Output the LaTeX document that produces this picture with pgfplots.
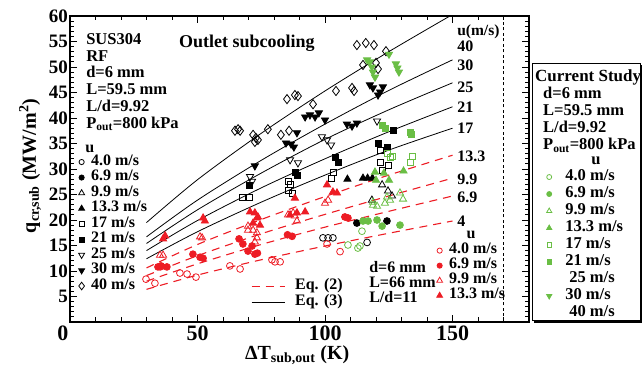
\documentclass[border=0pt]{standalone}
\usepackage{fontspec}
\setmainfont{Liberation Serif}
\usepackage{pgfplots}
\pgfplotsset{compat=1.18}
\usetikzlibrary{calc}
\definecolor{cred}{RGB}{237,28,36}
\definecolor{cgreen}{RGB}{106,190,69}
\newcommand{\lf}{\bfseries\fontsize{16}{16}\selectfont}
\newcommand{\tf}{\bfseries\fontsize{16.5}{16.8}\selectfont}
\pgfplotsset{
  base/.style={scale only axis, width=459pt, height=306pt, xmin=0, xmax=180, ymin=0, ymax=60,
    at={(0,0)}, anchor=south west, clip=false},
  leg/.style={legend cell align=left, legend style={draw=none, fill=none, font=\lf, inner sep=0pt,
    row sep=#1, nodes={inner sep=1pt, text height=8pt, text depth=2pt}}},
  m4/.style={mark=o, mark size=3.4pt, line width=0.8pt},
  m69/.style={mark=*, mark size=3.4pt, line width=0.8pt},
  m99/.style={mark=triangle, mark size=4.1pt, line width=0.8pt},
  m133/.style={mark=triangle*, mark size=4.1pt, line width=0.8pt},
  m17/.style={mark=square, mark size=3.0pt, line width=0.8pt},
  m21/.style={mark=square*, mark size=3.0pt, line width=0.8pt},
  m25/.style={mark=triangle, mark size=4.1pt, line width=0.8pt, mark options={rotate=180}},
  m30/.style={mark=triangle*, mark size=4.1pt, line width=0.8pt, mark options={rotate=180}},
  m40/.style={mark=diamond, mark size=4.6pt, line width=0.8pt},
  eqleg/.style={legend image code/.code={\draw[##1] (0pt,0pt) -- (33pt,0pt);}},
  eq3/.style={black, line width=0.8pt, smooth},
  eq2/.style={cred, line width=1.1pt, dash pattern=on 8pt off 6pt, smooth},
}
\begin{document}
\begin{tikzpicture}
% ---------------- main axis (black data, correlations) ----------------
\begin{axis}[base, name=main,
  axis line style={line width=1.3pt},
  xtick={0,50,100,150}, xticklabels={\hspace*{-14pt}0,50,100,150},
  minor xtick={0,10,...,180},
  ytick={5,10,...,60}, minor ytick={1,2,...,60},
  tick align=inside, major tick length=7pt, minor tick length=4.5pt,
  every tick/.style={black, line width=0.9pt},
  /pgf/number format/assume math mode=true,
  xticklabel style={font=\bfseries\fontsize{22}{22}\selectfont},
  yticklabel style={font=\bfseries\fontsize{19}{19}\selectfont, inner sep=2pt},
  xlabel={ΔT\textsubscript{sub,out} (K)},
  ylabel={q\textsubscript{cr,sub} (MW/m\textsuperscript{2})},
  xlabel style={font=\bfseries\fontsize{20}{20}\selectfont, at={(axis description cs:0.495,-0.108)}, anchor=center},
  ylabel style={font=\bfseries\fontsize{20}{20}\selectfont, at={(axis description cs:-0.087,0.51)}, anchor=center},
  leg=3.5pt,
  legend style={at={(0.0185,0.543)}, anchor=north west,
    /tikz/every odd column/.append style={column sep=5.5pt}},
]
% Eq. (3) solid lines: u = 40, 30, 25, 21, 17 m/s
\addplot[eq3, forget plot] coordinates {(30,19.5)(50,27.9)(75,37.0)(100,45.3)(125,53.0)(149,60)};
\addplot[eq3, forget plot] coordinates {(30,16.7)(50,23.9)(75,31.7)(100,38.8)(125,45.4)(150,51.4)};
\addplot[eq3, forget plot] coordinates {(30,15.4)(50,22.0)(75,29.2)(100,35.8)(125,41.6)(150,46.9)};
\addplot[eq3, forget plot] coordinates {(30,14.0)(50,19.9)(75,26.3)(100,32.0)(125,37.3)(150,42.2)};
\addplot[eq3, forget plot] coordinates {(30,12.4)(50,17.7)(75,23.5)(100,28.8)(125,33.7)(150,38.0)};
% Eq. (2) dashed lines: u = 13.3, 9.9, 6.9, 4 m/s
\addplot[eq2, forget plot] coordinates {(30,10.6)(50,15.2)(75,20.1)(100,24.6)(125,28.8)(150,32.7)};
\addplot[eq2, forget plot] coordinates {(30,9.1)(50,13.0)(75,17.3)(100,21.1)(125,24.7)(150,28.2)};
\addplot[eq2, forget plot] coordinates {(30,8.0)(50,11.4)(75,15.2)(100,18.6)(125,21.7)(150,24.7)};
\addplot[eq2, forget plot] coordinates {(30,6.4)(50,9.2)(75,12.2)(100,14.9)(125,17.4)(150,19.8)};
% dotted vertical line
\addplot[black, line width=0.6pt, dash pattern=on 3pt off 2.5pt, forget plot] coordinates {(170,0)(170,60)};
% black data (SUS304, RF, d=6 mm, L=59.5 mm)
\addplot[only marks, black, m4, forget plot] coordinates {(99.2,16.5)(101.2,16.5)(103.1,16.5)(116.5,15.6)};
\addplot[only marks, black, m69, forget plot] coordinates {(112.5,19.4)(124.3,19.8)};
\addplot[only marks, black, m99, forget plot] coordinates {(122.4,26.9)(124.7,25.7)(126.3,24.7)(118.4,23.9)};
\addplot[only marks, black, m133, forget plot] coordinates {(108.8,28.0)(114.9,28.2)(116.7,28.2)(118.6,28.2)};
\addplot[only marks, black, m17, forget plot] coordinates {(67.8,24.5)(70.2,24.5)(85.5,25.9)(87.1,25.3)(86.3,26.9)(85.5,27.5)(103.1,29.4)(102.7,28.2)(121.6,33.7)(121.6,31.2)(122.7,29.8)(124.7,30.8)};
\addplot[only marks, black, m21, forget plot] coordinates {(70.4,26.8)(88.4,29.3)(89,28.7)(103.9,32.2)(105.1,31.2)(120.8,35.1)(124.3,34.3)(126.7,37.6)};
\addplot[only marks, black, m25, forget plot] coordinates {(70.6,28.5)(71.4,27.6)(86.3,31.8)(89.4,31.2)(98.8,36.3)(100.8,35.7)(102.4,34.7)(120.4,39.4)};
\addplot[only marks, black, m30, forget plot] coordinates {(72.5,30.6)(84.7,35.1)(86.7,34.9)(87.8,34.3)(89,37.1)(92.2,40.2)(94.1,40.6)(96.1,40.2)(97.6,41)(100,39.6)(108.6,38.8)(110.6,38.4)(112.5,39)(117.6,46.5)(118.8,45.9)(121.6,45.1)(122.7,46.1)(120.8,44.5)};
\addplot[only marks, black, m40, forget plot] coordinates {(64.7,37.5)(65.9,37.8)(66.7,37.5)(71.8,36.7)(72.9,36.1)(73.7,35.7)(72.5,35.3)(77.6,37.8)(82.7,36.7)(85.9,37.5)(85.1,43.7)(88.2,44.5)(89.4,44.3)(95.3,42.7)(104.3,45.3)(110.6,45.9)(111.4,45.3)(112.5,54.3)(116,54.7)(119.2,54.3)(123.9,53.1)(114.9,50.4)(120.8,49.6)(120,50.8)};
% legend (black)
\addlegendimage{only marks, black, m4, mark size=2.6pt}\addlegendentry{4.0 m/s}
\addlegendimage{only marks, black, m69, mark size=2.6pt}\addlegendentry{6.9 m/s}
\addlegendimage{only marks, black, m99, mark size=3.4pt}\addlegendentry{9.9 m/s}
\addlegendimage{only marks, black, m133, mark size=3.4pt}\addlegendentry{13.3 m/s}
\addlegendimage{only marks, black, m17, mark size=2.5pt}\addlegendentry{17 m/s}
\addlegendimage{only marks, black, m21, mark size=2.5pt}\addlegendentry{21 m/s}
\addlegendimage{only marks, black, m25, mark size=3.4pt}\addlegendentry{25 m/s}
\addlegendimage{only marks, black, m30, mark size=3.4pt}\addlegendentry{30 m/s}
\addlegendimage{only marks, black, m40, mark size=3.8pt}\addlegendentry{40 m/s}
% annotations
\node[anchor=north west, align=left, font=\tf, inner sep=0pt] at (rel axis cs:0.035,0.944)
  {SUS304\\RF\\d=6 mm\\L=59.5 mm\\L/d=9.92\\P\textsubscript{out}=800 kPa};
\node[anchor=base, font=\bfseries\fontsize{18}{18}\selectfont, inner sep=0pt] at (axis cs:69.4,53.8) {Outlet subcooling};
\node[font=\lf, inner sep=0pt] at (axis cs:7.8,33.9) {u};
\node[anchor=west, font=\bfseries\fontsize{15.5}{15.5}\selectfont, inner sep=0pt] at (axis cs:151.8,56.9) {u(m/s)};
\foreach \lab/\yy in {40/54.1,30/50.4,25/46.1,21/42.2,17/38.0,13.3/32.4,9.9/28.0,6.9/24.5,4/19.8}{
  \edef\tmp{\noexpand\node[anchor=west, font=\noexpand\lf, inner sep=0pt] at (axis cs:151.8,\yy) {\lab};}\tmp
}
\node[anchor=north west, align=left, font=\bfseries\fontsize{16}{15}\selectfont, inner sep=0pt] at (axis cs:117.3,11.96)
  {d=6 mm\\L=66 mm\\L/d=11};
\node[font=\lf, inner sep=0pt] at (axis cs:157.3,17.1) {u};
\end{axis}
% ---------------- red data (d=6 mm, L=66 mm) ----------------
\begin{axis}[base, hide axis, leg=3pt,
  legend style={at={(0.7985,0.2535)}, anchor=north west,
    /tikz/every odd column/.append style={column sep=5.5pt}}]
\addplot[only marks, cred, m4, forget plot] coordinates {(29.8,8.4)(33.3,7.6)(43.1,9.6)(45.9,9.4)(49.4,8.8)(62.7,11.0)(66.7,10.4)(79.2,12.2)(80.4,11.8)(82.4,11.8)(100.8,15.3)(105.9,13.8)};
\addplot[only marks, cred, m69, forget plot] coordinates {(34.5,10.8)(35.7,11.0)(38,10.8)(48.2,13.3)(51,12.7)(52.2,12.5)(66.3,16.3)(67.8,15.3)(69.8,13.9)(71.4,14.9)(72.5,13.3)(73.5,13.5)(85.3,17.1)(87.1,16.8)(107.8,20.6)(109,20.4)};
\addplot[only marks, cred, m99, forget plot] coordinates {(35.3,13.1)(36.5,13.1)(51,16.7)(51.8,16.5)(69.8,18.0)(71.8,18.0)(73.3,17.5)(69.8,18.8)(73.3,16.5)(72.5,15.7)(85.5,21)(87.5,21.4)(89,19.8)(88.2,20.8)(101.2,23.9)(100,23.3)};
\addplot[only marks, cred, m133, forget plot] coordinates {(36.5,16.3)(37.3,16.9)(52.2,20.4)(52.9,19.8)(70.6,21.6)(72.5,21.4)(73.7,20.6)(73.3,20.4)(74.5,19)(71.8,19.4)(86.3,21)(89,21.4)(92.2,21.6)(88.2,24.3)(100.8,26.9)(103.1,25.5)(104.7,25.3)};
\addlegendimage{only marks, cred, m4, mark size=2.6pt}\addlegendentry{4.0 m/s}
\addlegendimage{only marks, cred, m69, mark size=2.6pt}\addlegendentry{6.9 m/s}
\addlegendimage{only marks, cred, m99, mark size=3.4pt}\addlegendentry{9.9 m/s}
\addlegendimage{only marks, cred, m133, mark size=3.4pt}\addlegendentry{13.3 m/s}
\end{axis}
% ---------------- Eq. legend ----------------
\begin{axis}[base, hide axis, leg=4pt,
  legend style={at={(0.394,0.1375)}, anchor=north west,
    /tikz/every odd column/.append style={column sep=9pt}}]
\addlegendimage{eqleg, cred, line width=1.1pt, dash pattern=on 8pt off 6pt}\addlegendentry{Eq. (2)}
\addlegendimage{eqleg, black, line width=0.8pt}\addlegendentry{Eq. (3)}
\end{axis}
% ---------------- green data (Current Study) ----------------
\begin{axis}[base, hide axis, leg=5pt,
  legend style={at={(1.025,0.494)}, anchor=north west, font=\tf,
    /tikz/every odd column/.append style={column sep=12.5pt}}]
\addplot[only marks, cgreen, m4, forget plot] coordinates {(109,15.1)(112.9,14.5)(113.7,14.9)(114.5,17.8)};
\addplot[only marks, cgreen, m69, forget plot] coordinates {(114.9,19.8)(116.9,19.8)(120.4,20)(122.4,18.8)(129.4,19)};
\addplot[only marks, cgreen, m99, forget plot] coordinates {(118.8,22.9)(118.8,23.5)(120.4,22.7)(123.5,23.3)(124.3,24.5)(125.5,23.9)(129.4,25.3)(130.6,24.1)};
\addplot[only marks, cgreen, m133, forget plot] coordinates {(119.6,29.4)(123.1,29.2)(125.1,27.8)(120,27.8)(130.8,29.6)};
\addplot[only marks, cgreen, m17, forget plot] coordinates {(124.3,33.1)(125.5,32.2)(126.3,32.4)(134.1,32.4)(133.3,31.2)};
\addplot[only marks, cgreen, m21, forget plot] coordinates {(122.7,38.6)(123.5,38)(133.3,37.1)(133.7,36.7)};
\addplot[only marks, cgreen, m30, forget plot] coordinates {(116.5,51.4)(117.6,51)(118.4,50)(118.8,49)(119.6,48)(125.1,52.5)(127.8,50.6)(128.4,49.8)(129,49)};
\addlegendimage{only marks, cgreen, m4, mark size=2.5pt}\addlegendentry{4.0 m/s}
\addlegendimage{only marks, cgreen, m69, mark size=2.5pt}\addlegendentry{6.9 m/s}
\addlegendimage{only marks, cgreen, m99, mark size=3pt}\addlegendentry{9.9 m/s}
\addlegendimage{only marks, cgreen, m133, mark size=3pt}\addlegendentry{13.3 m/s}
\addlegendimage{only marks, cgreen, m17, mark size=2.3pt}\addlegendentry{17 m/s}
\addlegendimage{only marks, cgreen, m21, mark size=2.3pt}\addlegendentry{21 m/s}
\addlegendimage{empty legend}\addlegendentry{\hspace*{4pt}25 m/s}
\addlegendimage{only marks, cgreen, m30, mark size=3pt}\addlegendentry{30 m/s}
\addlegendimage{empty legend}\addlegendentry{\hspace*{4pt}40 m/s}
\end{axis}
% ---------------- Current Study box ----------------
\begin{scope}[shift={(main.south west)}]
\draw[line width=0.9pt] (462pt,2pt) rectangle (570pt,259pt);
\fill[black] (464pt,-1pt) rectangle (572pt,2pt);
\fill[black] (570pt,-1pt) rectangle (572pt,257pt);
\node[anchor=base west, font=\bfseries\fontsize{17}{17}\selectfont, inner sep=0pt] at (465pt,240.5pt) {Current Study};
\node[anchor=base west, font=\tf, inner sep=0pt] at (473pt,223.5pt) {d=6 mm};
\node[anchor=base west, font=\tf, inner sep=0pt] at (473pt,206.5pt) {L=59.5 mm};
\node[anchor=base west, font=\tf, inner sep=0pt] at (473pt,189.5pt) {L/d=9.92};
\node[anchor=base west, font=\tf, inner sep=0pt] at (473pt,172.5pt) {P\textsubscript{out}=800 kPa};
\node[font=\tf, inner sep=0pt] at (526pt,161pt) {u};
\end{scope}
\pgfresetboundingbox
\path[use as bounding box] ($(main.south west)+(-70pt,-49pt)$) rectangle ($(main.south west)+(572pt,322pt)$);
\end{tikzpicture}
\end{document}
